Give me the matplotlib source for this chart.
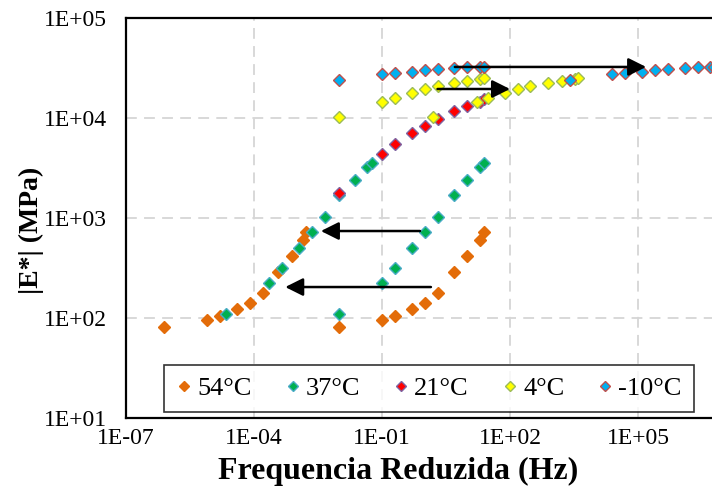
import numpy as np
import matplotlib
matplotlib.use('Agg')
import matplotlib.pyplot as plt
from matplotlib.ticker import FixedLocator, FuncFormatter, NullLocator

plt.rcParams['font.family'] = ['Liberation Serif', 'DejaVu Serif']

# measured test frequencies (Hz)
freq_hz = [0.01, 0.1, 0.2, 0.5, 1, 2, 5, 10, 20, 25]

# |E*| (MPa) per test temperature
e_54 = [82, 96, 105, 122, 140, 177, 291, 417, 603, 730]
e_37 = [109, 225, 314, 498, 730, 1030, 1698, 2399, 3260, 3520]
e_21 = [1766, 4335, 5457, 7130, 8318, 9705, 11840, 13180, 14560, 15380]
e_4 = [10300, 14560, 15960, 17900, 19360, 20890, 22550, 23600, 24370, 24950]
e_m10 = [23990, 27540, 28380, 29040, 30200, 30680, 31400, 32140, 32600, 32600]

# reduced frequencies (Hz) after shifting to 21°C
fr_54 = [7.9e-07, 8.1e-06, 1.6e-05, 3.9e-05, 8.1e-05, 1.66e-04, 3.7e-04, 7.6e-04, 1.38e-03, 1.66e-03]
fr_37 = [2.2e-05, 2.3e-04, 4.6e-04, 1.12e-03, 2.24e-03, 4.6e-03, 9.8e-03, 2.3e-02, 4.4e-02, 5.8e-02]
fr_4 = [1.6, 16.6, 31, 76, 155, 302, 794, 1620, 3310, 3980]
fr_m10 = [2570, 2.4e4, 4.9e4, 1.23e5, 2.5e5, 5.1e5, 1.26e6, 2.57e6, 4.8e6, 6.0e6]

labels = ['54°C', '37°C', '21°C', '4°C', '-10°C']
face_colors = ['#E36C09', '#00B050', '#FF0000', '#FFFF00', '#00B0F0']
edge_colors = ['#E36C09', '#4BACC6', '#8064A2', '#9BBB59', '#C0504D']

# shift arrows: (x_start, x_end, y)
arrows = [
    (1.4, 5.4e-04, 204),
    (0.78, 3.7e-03, 741),
    (2.0, 100, 19500),
    (5.1, 1.55e5, 32400),
]

fig = plt.figure(figsize=(7.12, 4.87), dpi=100)
ax = fig.add_axes([126 / 712, 1 - 418 / 487, 640 / 712, 400 / 487])

series = [
    (freq_hz + fr_54, e_54 + e_54),
    (freq_hz + fr_37, e_37 + e_37),
    (freq_hz, e_21),
    (freq_hz + fr_4, e_4 + e_4),
    (freq_hz + fr_m10, e_m10 + e_m10),
]

handles = []
for (xs, ys), lab, fc, ec in zip(series, labels, face_colors, edge_colors):
    h, = ax.plot(xs, ys, linestyle='none', marker='D', markersize=6.3,
                 markerfacecolor=fc, markeredgecolor=ec, markeredgewidth=1.0,
                 label=lab, zorder=3, clip_on=True)
    handles.append(h)

for x0, x1, y in arrows:
    ax.annotate('', xy=(x1, y), xytext=(x0, y),
                arrowprops=dict(arrowstyle='-|>', color='black', lw=1.8,
                                mutation_scale=27, shrinkA=0, shrinkB=0),
                zorder=4)

ax.set_xscale('log')
ax.set_yscale('log')
ax.set_xlim(1e-7, 1e8)
ax.set_ylim(1e1, 1e5)

ax.xaxis.set_major_locator(FixedLocator([1e-7, 1e-4, 1e-1, 1e2, 1e5]))
ax.yaxis.set_major_locator(FixedLocator([1e1, 1e2, 1e3, 1e4, 1e5]))
ax.xaxis.set_minor_locator(NullLocator())
ax.yaxis.set_minor_locator(NullLocator())
fmt = FuncFormatter(lambda v, p: f"1E{int(round(np.log10(v))):+03d}")
ax.xaxis.set_major_formatter(fmt)
ax.yaxis.set_major_formatter(fmt)
ax.tick_params(axis='both', length=0, labelsize=17)
ax.tick_params(axis='x', pad=7)
ax.tick_params(axis='y', pad=14)

ax.grid(True, which='major', color='#D6D6D6', linestyle=(0, (6, 4)), linewidth=1.3)
ax.set_axisbelow(True)
for sp in ax.spines.values():
    sp.set_linewidth(1.6)
    sp.set_color('black')

ax.set_xlabel('Frequencia Reduzida (Hz)', fontsize=23, fontweight='bold', va='top')
ax.xaxis.set_label_coords(0.425, -0.098)
ax.set_ylabel('|E*| (MPa)', fontsize=20, fontweight='bold')
ax.yaxis.set_label_coords(-0.128, 0.47)

leg = fig.legend(handles=handles, loc='center', bbox_to_anchor=(429 / 712, 1 - 388.5 / 487),
                 ncol=5, fontsize=19, frameon=True, fancybox=False, borderpad=0.45,
                 handlelength=0.6, handletextpad=0.2, columnspacing=1.25, markerscale=0.85,
                 borderaxespad=0)
leg.get_frame().set_edgecolor('black')
leg.get_frame().set_linewidth(1.2)

fig.savefig('out.png', dpi=100)
